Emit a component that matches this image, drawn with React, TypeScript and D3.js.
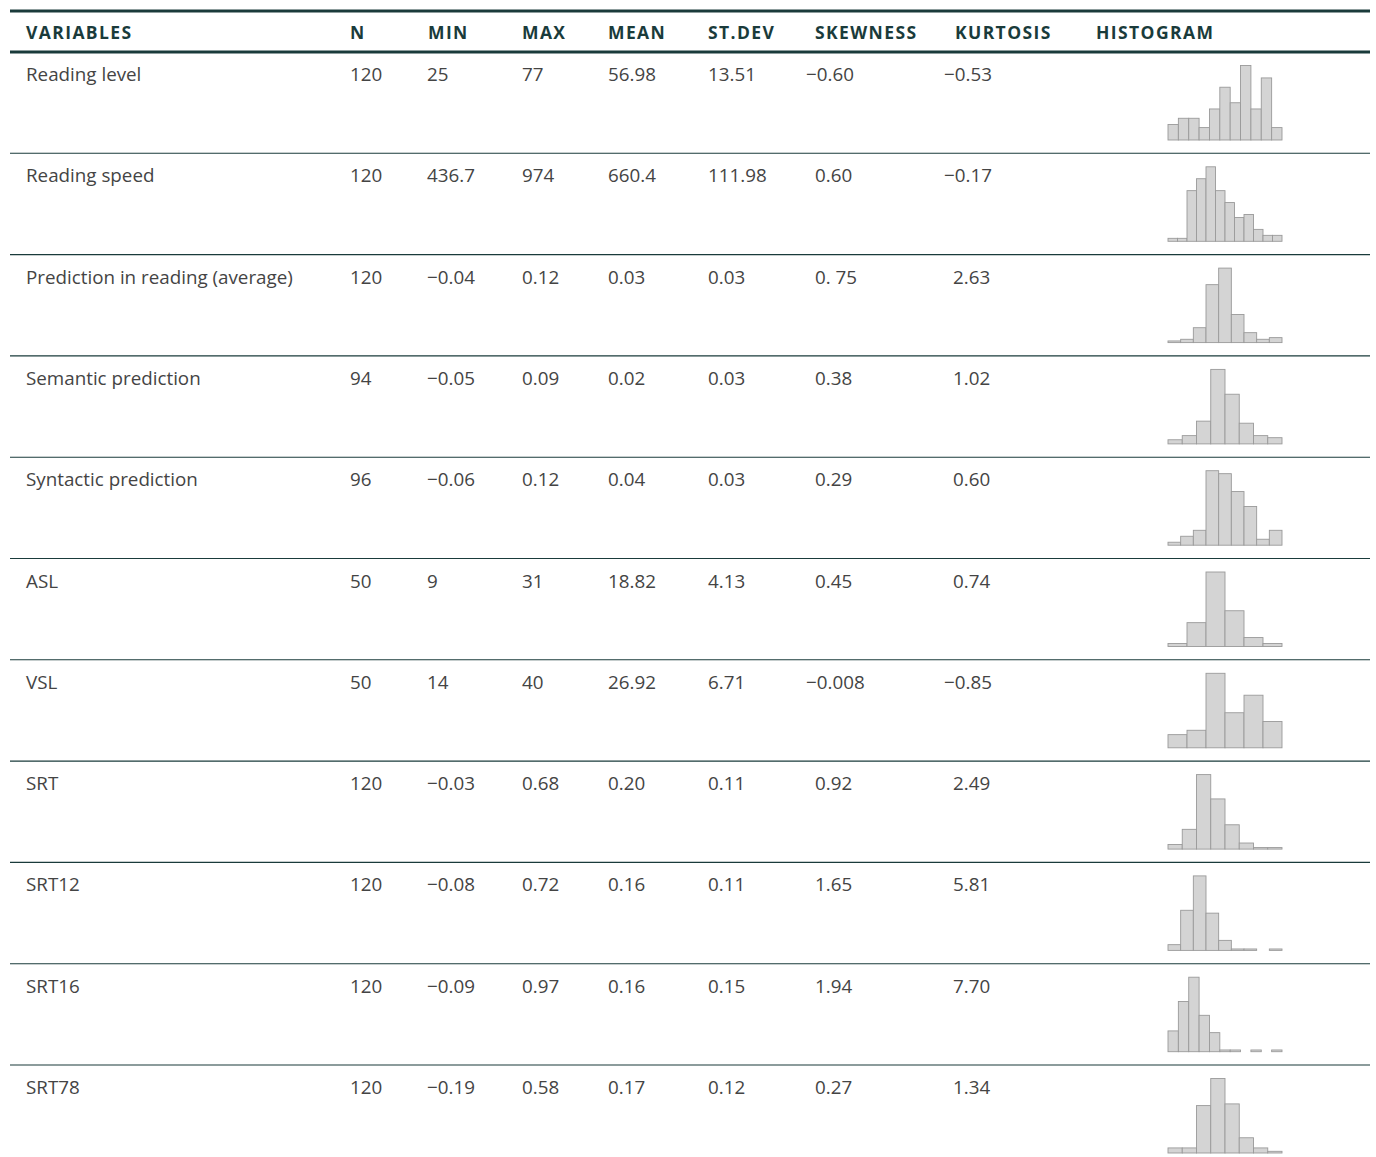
import React, { useEffect } from "react";
import * as d3 from "d3";

// table data
const headers = ["VARIABLES", "N", "MIN", "MAX", "MEAN", "ST.DEV", "SKEWNESS", "KURTOSIS", "HISTOGRAM"];
const variables = [
  "Reading level",
  "Reading speed",
  "Prediction in reading (average)",
  "Semantic prediction",
  "Syntactic prediction",
  "ASL",
  "VSL",
  "SRT",
  "SRT12",
  "SRT16",
  "SRT78",
];
const nValues = ["120", "120", "120", "94", "96", "50", "50", "120", "120", "120", "120"];
const minValues = ["25", "436.7", "−0.04", "−0.05", "−0.06", "9", "14", "−0.03", "−0.08", "−0.09", "−0.19"];
const maxValues = ["77", "974", "0.12", "0.09", "0.12", "31", "40", "0.68", "0.72", "0.97", "0.58"];
const meanValues = ["56.98", "660.4", "0.03", "0.02", "0.04", "18.82", "26.92", "0.20", "0.16", "0.16", "0.17"];
const sdValues = ["13.51", "111.98", "0.03", "0.03", "0.03", "4.13", "6.71", "0.11", "0.11", "0.15", "0.12"];
const skewValues = ["−0.60", "0.60", "0. 75", "0.38", "0.29", "0.45", "−0.008", "0.92", "1.65", "1.94", "0.27"];
const kurtValues = ["−0.53", "−0.17", "2.63", "1.02", "0.60", "0.74", "−0.85", "2.49", "5.81", "7.70", "1.34"];

// histogram bin counts
const histReadingLevel = [5, 7, 7, 4, 10, 17, 12, 24, 10, 20, 4];
const histReadingSpeed = [1, 1, 17, 21, 25, 17, 13, 8, 9, 4, 2, 2];
const histPrediction = [1, 2, 9, 35, 45, 17, 6, 2, 3];
const histSemantic = [2, 4, 11, 36, 24, 10, 4, 3];
const histSyntactic = [1, 3, 5, 25, 24, 18, 13, 2, 5];
const histASL = [1, 8, 25, 12, 3, 1];
const histVSL = [3, 4, 17, 8, 12, 6];
const histSRT = [3, 13, 49, 33, 16, 4, 1, 1];
const histSRT12 = [4, 28, 52, 26, 7, 1, 1, 0, 1];
const histSRT16 = [12, 29, 43, 21, 11, 1, 1, 0, 1, 0, 1];
const histSRT78 = [3, 3, 28, 44, 29, 9, 3, 1];
const histograms = [
  histReadingLevel, histReadingSpeed, histPrediction, histSemantic, histSyntactic,
  histASL, histVSL, histSRT, histSRT12, histSRT16, histSRT78,
];

const W = 1376;
const H = 1157;
const headerX = [26, 350, 428, 522, 608, 708, 815, 955, 1096];
const dataX = [26, 350, 427, 522, 608, 708, 815, 953];
const hangMinus = [false, false, false, false, false, false, true, true];
const MINUS_W = 9;

const headColor = "#1a3b3b";
const textColor = "#444444";
const font = "'Open Sans', 'Noto Sans', sans-serif";

const Histogram = ({ counts, top }: { counts: number[]; top: number }) => {
  const x = d3
    .scaleBand<number>()
    .domain(d3.range(counts.length))
    .range([1168, 1282])
    .paddingInner(0);
  const y = d3
    .scaleLinear()
    .domain([0, d3.max(counts) as number])
    .range([top + 88, top + 13.5]);
  return (
    <g>
      {counts.map((c, i) =>
        c > 0 ? (
          <rect
            key={i}
            x={x(i)}
            y={y(c)}
            width={x.bandwidth()}
            height={y(0) - y(c)}
            fill="#d4d4d4"
            stroke="#9a9a9a"
            strokeWidth={0.9}
          />
        ) : null
      )}
    </g>
  );
};

const App = () => {
  useEffect(() => {
    document.body.style.margin = "0";
  }, []);

  const rows = d3
    .scaleBand<number>()
    .domain(d3.range(variables.length))
    .range([52, 52 + 101.3 * variables.length]);

  const columns = [variables, nValues, minValues, maxValues, meanValues, sdValues, skewValues, kurtValues];

  return (
    <svg width={W} height={H} style={{ display: "block" }}>
      <rect width={W} height={H} fill="#ffffff" />
      {/* header */}
      <line x1={10} x2={1370} y1={11} y2={11} stroke={headColor} strokeWidth={3} />
      {headers.map((h, i) => (
        <text
          key={h}
          x={headerX[i]}
          y={39}
          fill={headColor}
          fontFamily={font}
          fontWeight={700}
          fontSize={17.5}
          letterSpacing={1.4}
        >
          {h}
        </text>
      ))}
      <line x1={10} x2={1370} y1={52} y2={52} stroke={headColor} strokeWidth={3} />

      {variables.map((v, r) => {
        const top = rows(r) as number;
        return (
          <g key={v}>
            {r > 0 && (
              <line x1={10} x2={1370} y1={top} y2={top} stroke={headColor} strokeWidth={1.1} />
            )}
            {columns.map((col, c) => {
              const val = col[r];
              const shift = hangMinus[c] && val.startsWith("−") ? -MINUS_W : 0;
              return (
                <text
                  key={c}
                  x={dataX[c] + shift}
                  y={top + 29}
                  fill={textColor}
                  fontFamily={font}
                  fontSize={18.8}
                >
                  {val}
                </text>
              );
            })}
            <Histogram counts={histograms[r]} top={top} />
          </g>
        );
      })}
    </svg>
  );
};

export default App;
